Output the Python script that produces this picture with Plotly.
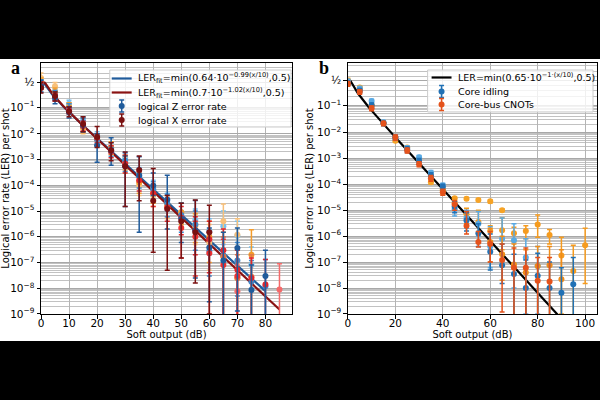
import numpy as np
import plotly.graph_objects as go

# ---------------- panel a data (logical error rate per shot) ----------------
a_z1_x = [0, 5, 10, 15, 20, 25, 30, 35, 40, 45, 50, 55, 60, 65, 70, 75, 80]
a_z1_ler = [0.42, 0.2, 0.065, 0.022, 3.6e-3, 2.2e-3, 5.5e-4, 2.5e-4, 1.0e-4, 2.8e-5, 5e-6, 1.8e-6, 3.8e-7, 1.2e-7, 3.7e-7, 8.5e-9, 3e-8]
a_z1_hi = [0.55, 0.3, 0.1, 0.04, 1.0e-2, 7e-3, 1.4e-3, 1.3e-3, 3e-4, 2.5e-4, 2e-5, 2.6e-5, 2.2e-6, 1.5e-6, 2.2e-6, 8e-8, 3e-7]
a_z1_lo = [0.3, 0.13, 0.04, 0.012, 8e-4, 6e-4, 1.5e-5, 1.5e-6, 4e-5, 2e-6, 6e-7, 2.5e-8, 3e-9, 0, 1.3e-9, 0, 0]

a_z2_x = [0, 5, 10, 15, 20, 25, 30, 35, 40, 45, 50, 55, 60, 65, 70, 75, 80]
a_z2_ler = [0.46, 0.24, 0.09, 0.02, 6e-3, 2.6e-3, 9e-4, 2.2e-4, 7e-5, 2e-5, 7e-6, 3e-6, 2.8e-7, 1.9e-7, 1.2e-7, 1.8e-8, 1.2e-8]
a_z2_hi = [0.56, 0.33, 0.13, 0.033, 1e-2, 4.5e-3, 1.8e-3, 4.5e-4, 1.4e-4, 4.5e-5, 2e-5, 1e-5, 1.5e-6, 1e-6, 6e-7, 1.2e-7, 1.3e-7]
a_z2_lo = [0.36, 0.17, 0.06, 0.012, 3.4e-3, 1.3e-3, 3.5e-4, 8e-5, 2.5e-5, 6e-6, 1.5e-6, 3e-7, 3e-8, 0, 5e-9, 0, 0]

a_z3_x = [0, 5, 10, 15, 20, 25, 30, 35, 40, 45, 50, 55, 60, 65, 70, 75]
a_z3_ler = [0.52, 0.28, 0.13, 0.03, 8e-3, 3e-3, 1.2e-3, 2.8e-4, 9e-5, 2.6e-5, 9e-6, 4.5e-6, 1.7e-6, 2.6e-6, 1.1e-6, 8e-8]
a_z3_hi = [0.6, 0.36, 0.17, 0.045, 1.2e-2, 5e-3, 2e-3, 5e-4, 1.6e-4, 5e-5, 2e-5, 1.2e-5, 5e-6, 1e-5, 4e-6, 4e-7]
a_z3_lo = [0.42, 0.2, 0.09, 0.02, 5e-3, 1.5e-3, 6e-4, 1.3e-4, 4e-5, 1e-5, 3e-6, 1e-6, 2e-7, 5e-7, 1e-7, 1e-8]

a_x1_x = [0, 5, 10, 15, 20, 25, 30, 35, 40, 45, 50, 55, 60]
a_x1_ler = [0.38, 0.23, 0.07, 0.024, 7.5e-3, 2.3e-3, 5.5e-4, 4e-4, 2.5e-5, 1.2e-5, 4e-6, 1.5e-6, 1.5e-6]
a_x1_hi = [0.5, 0.3, 0.1, 0.045, 1.9e-2, 4.5e-3, 2e-3, 1.4e-3, 4.5e-4, 4e-5, 2e-5, 2.7e-5, 1.7e-5]
a_x1_lo = [0.28, 0.16, 0.045, 0.012, 3e-3, 9e-4, 1.5e-5, 2.5e-5, 2.5e-7, 5e-8, 1.5e-7, 1.6e-8, 1e-9]

a_x2_x = [0, 5, 10, 15, 20, 25, 30, 35, 40, 45, 50, 55, 60, 65, 70, 75, 80]
a_x2_ler = [0.44, 0.21, 0.075, 0.02, 7e-3, 2e-3, 7e-4, 1.6e-4, 5e-5, 1.4e-5, 5.5e-6, 1.8e-6, 8e-7, 3e-7, 5.2e-8, 2.5e-8, 1.4e-8]
a_x2_hi = [0.52, 0.27, 0.1, 0.03, 1e-2, 3.5e-3, 1.5e-3, 3.5e-4, 1e-4, 3e-5, 1.5e-5, 6e-6, 4e-6, 2e-6, 4e-7, 1.5e-7, 1.3e-7]
a_x2_lo = [0.36, 0.16, 0.055, 0.013, 4.5e-3, 1.2e-3, 3e-4, 6e-5, 1.5e-5, 4e-6, 1.2e-6, 2e-7, 4e-8, 0, 0, 0, 0]

a_x3_x = [50, 55, 60, 65, 70]
a_x3_ler = [2.2e-6, 1e-6, 2.3e-7, 8e-8, 3e-8]
a_x3_hi = [6e-6, 4e-6, 1.5e-6, 8e-7, 3e-7]
a_x3_lo = [1.5e-7, 3e-8, 0, 0, 0]

a_x4_x = [0, 5, 10, 15, 20, 25, 30, 35, 40, 45, 50, 55, 60, 65, 70, 75]
a_x4_ler = [0.5, 0.3, 0.1, 0.018, 6e-3, 3e-3, 8e-4, 1.3e-4, 5e-5, 1.8e-5, 9e-6, 3e-6, 1e-6, 1.7e-7, 2.5e-8, 2e-7]
a_x4_hi = [0.6, 0.38, 0.14, 0.028, 1e-2, 5e-3, 1.5e-3, 3e-4, 1e-4, 4e-5, 2e-5, 8e-6, 4e-6, 1.5e-6, 3e-7, 1.9e-6]
a_x4_lo = [0.4, 0.22, 0.07, 0.011, 3.5e-3, 1.6e-3, 4e-4, 5e-5, 2e-5, 6e-6, 3e-6, 6e-7, 1e-7, 0, 0, 0]

a_x5_x = [0, 5, 10, 15, 20, 25, 30, 35, 40, 45, 50, 55, 60, 65, 70]
a_x5_ler = [0.6, 0.42, 0.1, 0.016, 6e-3, 3e-3, 7e-4, 1e-4, 4e-5, 1.4e-5, 9e-6, 2.6e-6, 6e-7, 4e-6, 1.2e-6]
a_x5_hi = [0.7, 0.5, 0.14, 0.025, 1e-2, 5e-3, 1.3e-3, 2.5e-4, 8e-5, 3e-5, 2e-5, 7e-6, 3e-6, 1.9e-5, 5e-6]
a_x5_lo = [0.5, 0.33, 0.07, 0.01, 3.5e-3, 1.6e-3, 3e-4, 4e-5, 1.5e-5, 5e-6, 3e-6, 5e-7, 5e-8, 6e-7, 1e-7]

a_x6_x = [65, 70, 75]
a_x6_ler = [1.7e-7, 2.5e-8, 2.8e-8]
a_x6_hi = [1e-6, 2e-7, 2e-7]
a_x6_lo = [0, 0, 0]

a_x7_x = [70, 85]
a_x7_ler = [7.6e-9, 9e-9]
a_x7_hi = [8e-8, 9e-8]
a_x7_lo = [0, 0]

a_fitZ = (0.64, 0.99, 80)
a_fitX = (0.7, 1.02, 85)

# ---------------- panel b data ----------------
b_i1_x = [0, 5, 10, 15, 20, 25, 30, 35, 40, 45, 50, 55, 60, 65, 70, 75, 80, 85, 90, 95]
b_i1_ler = [0.45, 0.29, 0.1, 0.022, 6.5e-3, 2.2e-3, 8e-4, 2.2e-4, 8e-5, 1.4e-5, 4e-6, 1.3e-6, 2.5e-7, 7.5e-8, 3.5e-8, 1e-8, 3e-8, 1e-8, 6.5e-9, 1.4e-8]
b_i1_hi = [0.5, 0.33, 0.12, 0.026, 8e-3, 2.8e-3, 1e-3, 2.8e-4, 1e-4, 2.2e-5, 8e-6, 3e-6, 1.2e-6, 5e-7, 2e-7, 1.2e-7, 2.2e-7, 1e-7, 6e-8, 1.5e-7]
b_i1_lo = [0.4, 0.25, 0.085, 0.018, 5e-3, 1.7e-3, 6e-4, 1.6e-4, 6e-5, 8e-6, 1.6e-6, 4e-7, 5e-8, 1.5e-8, 0, 0, 0, 0, 0, 0]

b_i2_x = [0, 5, 10, 15, 20, 25, 30, 35, 40, 45, 50, 55, 60, 65, 70, 75, 80]
b_i2_ler = [0.48, 0.33, 0.14, 0.024, 6e-3, 2.5e-3, 1.1e-3, 2.8e-4, 9e-5, 1.1e-5, 5e-6, 3e-6, 4e-7, 8e-7, 7e-7, 1.5e-7, 7e-8]
b_i2_hi = [0.53, 0.37, 0.16, 0.028, 7.5e-3, 3e-3, 1.3e-3, 3.4e-4, 1.1e-4, 2e-5, 1e-5, 9e-6, 2.3e-6, 5e-6, 3e-6, 8e-7, 4e-7]
b_i2_lo = [0.43, 0.29, 0.12, 0.02, 5e-3, 2e-3, 9e-4, 2.2e-4, 7e-5, 6e-6, 2e-6, 1e-6, 6e-8, 1e-7, 1e-8, 1e-9, 1e-9]

b_c1_x = [0, 5, 10, 15, 20, 25, 30, 35, 40, 45, 50, 55, 60, 65, 70, 75, 80, 85]
b_c1_ler = [0.43, 0.27, 0.08, 0.022, 6.5e-3, 2e-3, 6e-4, 1.7e-4, 5e-5, 1.7e-5, 2.5e-6, 6e-7, 5e-7, 1.2e-7, 6e-8, 6e-8, 1.9e-8, 1.8e-8]
b_c1_hi = [0.48, 0.31, 0.095, 0.026, 8e-3, 2.5e-3, 7.5e-4, 2.2e-4, 6.5e-5, 2.4e-5, 9e-6, 1.5e-6, 1.5e-6, 5e-7, 3.5e-7, 3.5e-7, 1.5e-7, 1.5e-7]
b_c1_lo = [0.38, 0.23, 0.065, 0.018, 5e-3, 1.6e-3, 4.8e-4, 1.3e-4, 3.8e-5, 1e-5, 1.2e-6, 3.8e-7, 1e-7, 1.2e-9, 0, 0, 0, 0]

b_c2_x = [0, 5, 10, 15, 20, 25, 30, 35, 40, 45, 50, 55, 60, 65]
b_c2_ler = [0.5, 0.35, 0.1, 0.022, 4.8e-3, 2.6e-3, 9e-4, 1.2e-4, 6e-5, 2.9e-5, 2.8e-5, 2.5e-5, 2.2e-5, 1e-5]
b_c2_hi = [0.55, 0.38, 0.11, 0.024, 5.5e-3, 2.9e-3, 1e-3, 1.4e-4, 7e-5, 3.3e-5, 3.1e-5, 2.8e-5, 2.5e-5, 1.15e-5]
b_c2_lo = [0.45, 0.32, 0.09, 0.02, 4.2e-3, 2.3e-3, 8e-4, 1e-4, 5.2e-5, 2.5e-5, 2.5e-5, 2.2e-5, 1.9e-5, 0.9e-5]

b_c3_x = [40, 45, 50, 55, 60, 65, 70, 75, 80, 85, 90, 95, 100]
b_c3_ler = [6e-5, 2e-5, 7e-6, 3.5e-6, 1.6e-6, 1.7e-6, 1.3e-6, 1.6e-6, 2.8e-6, 1.1e-6, 1.8e-7, 4.5e-8, 4.5e-7]
b_c3_hi = [8e-5, 3e-5, 1.2e-5, 1e-5, 2.5e-6, 5e-6, 2.2e-6, 2.5e-6, 6.5e-6, 1.8e-6, 9e-7, 4.5e-7, 2e-6]
b_c3_lo = [4e-5, 1.2e-5, 3e-6, 1e-6, 6e-7, 3e-7, 6e-7, 8e-7, 9e-7, 5e-7, 1e-9, 0, 1.5e-8]

b_c4_x = [60, 65, 70, 75, 80, 85, 90]
b_c4_ler = [6e-7, 2e-7, 8e-8, 4e-8, 7e-8, 7.5e-8, 2.2e-8]
b_c4_hi = [2e-6, 1e-6, 5e-7, 3e-7, 4e-7, 4e-7, 3e-7]
b_c4_lo = [1e-7, 2e-8, 0, 0, 0, 0, 0]

b_fit = (0.65, 1.0, 100)

# tick labels
y_tick_p = [0.5, 1e-1, 1e-2, 1e-3, 1e-4, 1e-5, 1e-6, 1e-7, 1e-8, 1e-9]
y_tick_text = ["½"] + ["10<sup>−%d</sup>" % k for k in range(1, 10)]

# legend texts
a_legend_text = ["LER<sub>fit</sub>=min(0.64·10<sup>−0.99(x/10)</sup>,0.5)",
                 "LER<sub>fit</sub>=min(0.7·10<sup>−1.02(x/10)</sup>,0.5)",
                 "logical Z error rate", "logical X error rate"]
b_legend_text = ["LER=min(0.65·10<sup>−1·(x/10)</sup>,0.5)", "Core idling", "Core-bus CNOTs"]

C_Z, C_X, C_B = "#1f5b9b", "#7a1111", "#000000"
C_I, C_C = "#2171b5", "#e4521b"


def logit(p):
    p = np.asarray(p, dtype=float)
    with np.errstate(divide="ignore"):
        v = np.log10(p / (1 - p))
    return np.where(np.isfinite(v), v, -15.0)


fig = go.Figure()


def add_fit(params, color, xa, ya):
    amp, slope, xmax = params
    xs = np.linspace(0, xmax, 200)
    p = np.minimum(amp * 10 ** (-slope * xs / 10), 0.5)
    fig.add_trace(go.Scatter(x=xs, y=logit(p), mode="lines", line=dict(color=color, width=2.2),
                             showlegend=False, xaxis=xa, yaxis=ya, hoverinfo="skip"))


def add_series(x, ler, hi, lo, color, xa, ya):
    y = logit(ler)
    yh = logit(hi)
    yl = logit(lo)
    fig.add_trace(go.Scatter(
        x=x, y=y, mode="markers", marker=dict(color=color, size=6),
        error_y=dict(type="data", symmetric=False, array=yh - y, arrayminus=y - yl,
                     color=color, thickness=1.5, width=2.5),
        showlegend=False, xaxis=xa, yaxis=ya))


# panel a
add_fit(a_fitZ, C_Z, "x", "y")
add_fit(a_fitX, "#8a1212", "x", "y")
add_series(a_z3_x, a_z3_ler, a_z3_hi, a_z3_lo, "#76c0f0", "x", "y")
add_series(a_x5_x, a_x5_ler, a_x5_hi, a_x5_lo, "#f7c07a", "x", "y")
add_series(a_x4_x, a_x4_ler, a_x4_hi, a_x4_lo, "#f39c2c", "x", "y")
add_series(a_z2_x, a_z2_ler, a_z2_hi, a_z2_lo, "#3c89cd", "x", "y")
add_series(a_x6_x, a_x6_ler, a_x6_hi, a_x6_lo, "#e07a48", "x", "y")
add_series(a_x7_x, a_x7_ler, a_x7_hi, a_x7_lo, "#f46a6a", "x", "y")
add_series(a_x3_x, a_x3_ler, a_x3_hi, a_x3_lo, "#f03030", "x", "y")
add_series(a_x2_x, a_x2_ler, a_x2_hi, a_x2_lo, "#e4242a", "x", "y")
add_series(a_z1_x, a_z1_ler, a_z1_hi, a_z1_lo, C_Z, "x", "y")
add_series(a_x1_x, a_x1_ler, a_x1_hi, a_x1_lo, C_X, "x", "y")

# panel b
add_fit(b_fit, C_B, "x2", "y2")
add_series(b_c2_x, b_c2_ler, b_c2_hi, b_c2_lo, "#f6a326", "x2", "y2")
add_series(b_c3_x, b_c3_ler, b_c3_hi, b_c3_lo, "#f59b1f", "x2", "y2")
add_series(b_i2_x, b_i2_ler, b_i2_hi, b_i2_lo, "#58a9e3", "x2", "y2")
add_series(b_c4_x, b_c4_ler, b_c4_hi, b_c4_lo, "#f08c18", "x2", "y2")
add_series(b_i1_x, b_i1_ler, b_i1_hi, b_i1_lo, C_I, "x2", "y2")
add_series(b_c1_x, b_c1_ler, b_c1_hi, b_c1_lo, C_C, "x2", "y2")

minor_p = [k * 10.0 ** (-e) for e in range(1, 10) for k in range(2, 10)] + [0.2, 0.3, 0.4]
FONT = "DejaVu Sans"

yax = dict(tickmode="array", tickvals=logit(y_tick_p).tolist(), ticktext=y_tick_text,
           showline=True, linecolor="black", linewidth=1, mirror=True,
           ticks="outside", ticklen=3.5, tickcolor="black",
           showgrid=True, gridcolor="#a8a8a8", gridwidth=1, zeroline=False,
           minor=dict(tickmode="array", tickvals=logit(minor_p).tolist(), showgrid=True,
                      gridcolor="#c2c2c2", gridwidth=0.8, ticks=""),
           tickfont=dict(size=10.5, color="black", family=FONT),
           title=dict(text="Logical error rate (LER) per shot", font=dict(size=10, family=FONT, color="black"),
                      standoff=1))
xax = dict(showline=True, linecolor="black", linewidth=1, mirror=True,
           ticks="outside", ticklen=3.5, tickcolor="black", ticklabelstandoff=-4,
           showgrid=True, gridcolor="#b4b4b4", gridwidth=1, zeroline=False,
           tickfont=dict(size=10.5, color="black", family=FONT),
           title=dict(text="Soft output (dB)", font=dict(size=10, family=FONT, color="black"), standoff=2))


# ---- pixel -> paper helpers (plot area: x 40..598, y 63..314) ----
def px(x):
    return (x - 40) / 558


def py(y):
    return (314 - y) / 251


shapes = [
    dict(type="rect", xref="paper", yref="paper", x0=-0.2, x1=1.2, y0=py(59), y1=2,
         fillcolor="black", line=dict(width=0), layer="above"),
    dict(type="rect", xref="paper", yref="paper", x0=-0.2, x1=1.2, y0=py(341), y1=-1,
         fillcolor="black", line=dict(width=0), layer="above"),
]
annotations = [
    dict(text="<b>a</b>", xref="paper", yref="paper", x=px(14), y=py(68),
         xanchor="center", yanchor="middle",
         showarrow=False, font=dict(family="Liberation Serif", size=18, color="black")),
    dict(text="<b>b</b>", xref="paper", yref="paper", x=px(324), y=py(68),
         xanchor="center", yanchor="middle",
         showarrow=False, font=dict(family="Liberation Serif", size=18, color="black")),
]


def legend_box(x0, x1, y0, y1):
    shapes.append(dict(type="rect", xref="paper", yref="paper", x0=px(x0), x1=px(x1), y0=py(y1), y1=py(y0),
                       fillcolor="rgba(255,255,255,0.8)", line=dict(color="#cccccc", width=1), layer="above"))


def legend_line(xa, xb, y, color):
    shapes.append(dict(type="line", xref="paper", yref="paper", x0=px(xa), x1=px(xb), y0=py(y), y1=py(y),
                       line=dict(color=color, width=2.2), layer="above"))


def legend_errmark(xc, y, color):
    shapes.append(dict(type="line", xref="paper", yref="paper", x0=px(xc), x1=px(xc), y0=py(y - 6), y1=py(y + 6),
                       line=dict(color=color, width=1.5), layer="above"))
    for yy in (y - 6, y + 6):
        shapes.append(dict(type="line", xref="paper", yref="paper", x0=px(xc - 2.5), x1=px(xc + 2.5),
                           y0=py(yy), y1=py(yy), line=dict(color=color, width=1.5), layer="above"))
    shapes.append(dict(type="circle", xref="paper", yref="paper", x0=px(xc - 3), x1=px(xc + 3),
                       y0=py(y + 3), y1=py(y - 3), fillcolor=color, line=dict(width=0), layer="above"))


def legend_text(x, y, text):
    annotations.append(dict(text=text, xref="paper", yref="paper", x=px(x), y=py(y), xanchor="left",
                            yanchor="middle", showarrow=False,
                            font=dict(family=FONT, size=9.5, color="black")))


# legend panel a
legend_box(109, 291, 70, 127)
rows_a = [78.5, 92.5, 106, 120]
legend_line(111, 131, rows_a[0], C_Z)
legend_line(111, 131, rows_a[1], "#8a1212")
legend_errmark(121, rows_a[2], C_Z)
legend_errmark(121, rows_a[3], C_X)
for r, t in zip(rows_a, a_legend_text):
    legend_text(135, r, t)

# legend panel b
legend_box(428, 594, 70, 112)
rows_b = [77.5, 91.5, 104.5]
legend_line(432, 452, rows_b[0], C_B)
legend_errmark(442, rows_b[1], C_I)
legend_errmark(442, rows_b[2], C_C)
for r, t in zip(rows_b, b_legend_text):
    legend_text(456, r, t)

fig.update_layout(
    width=600, height=400,
    margin=dict(l=40, r=2, t=63, b=86),
    paper_bgcolor="white", plot_bgcolor="white",
    font=dict(family=FONT, size=10, color="black"),
    xaxis=dict(xax, domain=[0, 252 / 558], range=[0, 89.5], tickmode="linear", tick0=0, dtick=10),
    yaxis=dict(yax, domain=[0, 1], range=[-9.002, 0.76], anchor="x"),
    xaxis2=dict(xax, domain=[308 / 558, 1], range=[0, 105], tickmode="linear", tick0=0, dtick=20, anchor="y2"),
    yaxis2=dict(yax, domain=[0, 1], range=[-9.002, 0.68], anchor="x2"),
    showlegend=False,
    shapes=shapes,
    annotations=annotations,
)

fig.write_html("out.html")
